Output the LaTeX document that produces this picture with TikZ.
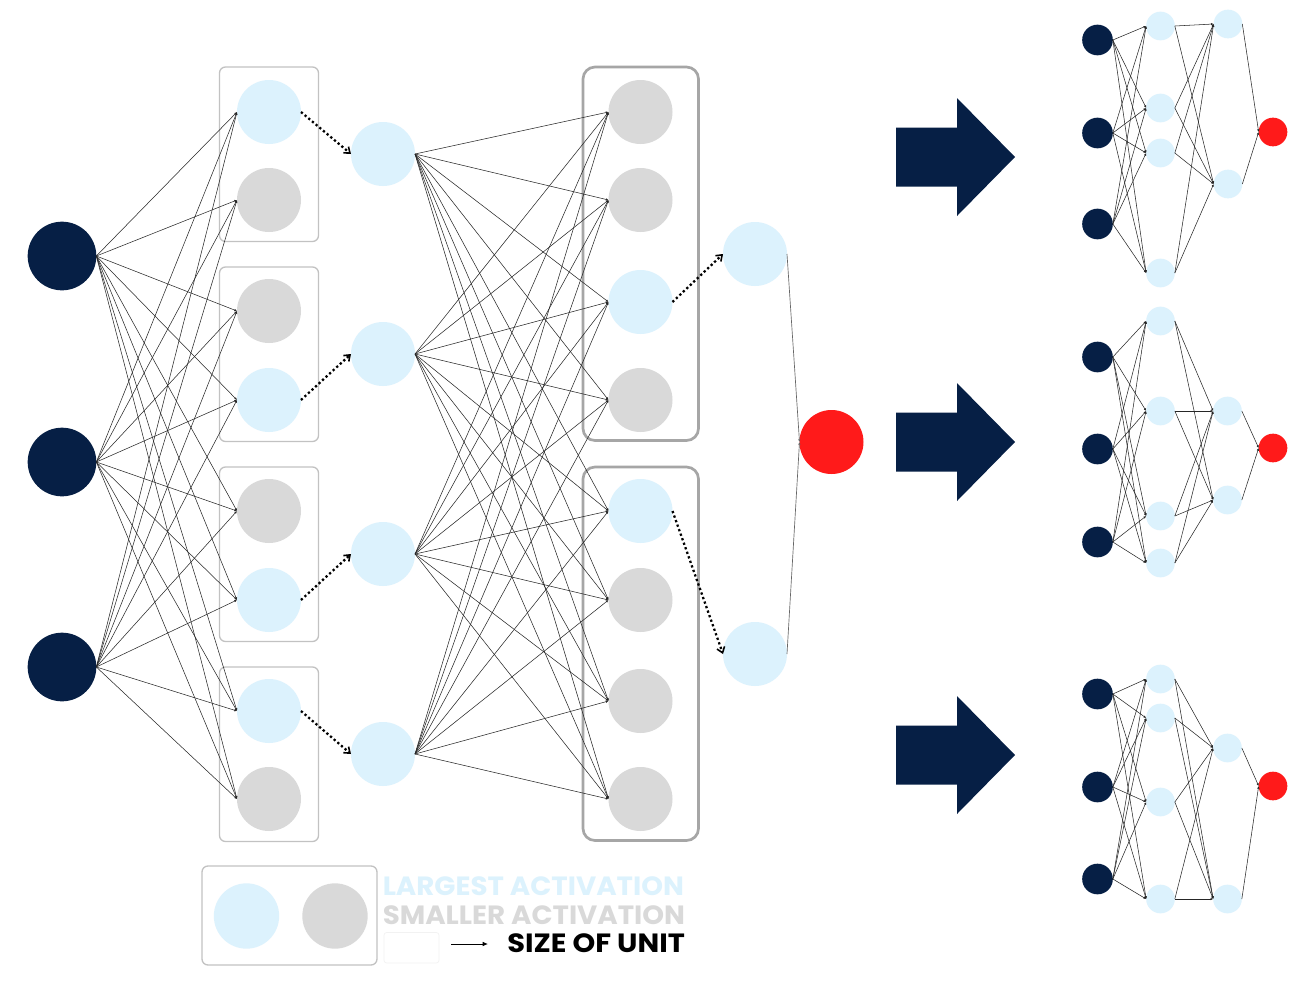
\documentclass[tikz,border=0pt]{standalone}
\usepackage{fontspec}
\setmainfont{Poppins}
\usetikzlibrary{arrows.meta}
\definecolor{navy}{HTML}{061F45}
\definecolor{lblue}{HTML}{DCF2FD}
\definecolor{lgray}{HTML}{D9D9D9}
\definecolor{ured}{HTML}{FF1A1A}
\definecolor{boxA}{HTML}{C2C2C2}
\definecolor{boxB}{HTML}{A6A6A6}
\tikzset{
  unit/.style={circle,inner sep=0pt,outer sep=0pt,draw=none},
  inp/.style={unit,fill=navy,minimum size=51.5pt},
  bl/.style={unit,fill=lblue,minimum size=48pt},
  gr/.style={unit,fill=lgray,minimum size=48pt},
  outn/.style={unit,fill=ured,minimum size=48pt},
  sinp/.style={unit,fill=navy,minimum size=23pt},
  sbl/.style={unit,fill=lblue,minimum size=21.5pt},
  sout/.style={unit,fill=ured,minimum size=21.5pt},
  conn/.style={line width=0.4pt,draw=black!85,-{Latex[length=2pt,width=1.8pt]}},
  gconn/.style={line width=0.5pt,draw=black!60,-{Latex[length=2pt,width=1.8pt]}},
  dotarrow/.style={line width=1.7pt,dash pattern=on 1.7pt off 1.9pt,-{Straight Barb[length=4pt,width=6pt,line width=1.2pt]}},
  boxa/.style={draw=boxA,line width=1pt,rounded corners=4.5pt},
  boxb/.style={draw=boxB,line width=2pt,rounded corners=9pt},
  bigarrow/.style={fill=navy,draw=none},
  legtxt/.style={anchor=base west,inner sep=0pt,font=\fontsize{19.8}{22}\selectfont\bfseries}
}
\begin{document}
\begin{tikzpicture}[x=0.75pt,y=-0.75pt]
\useasboundingbox (0,0) rectangle (1297,986);
\fill[white] (0,0) rectangle (1297,986);
% layer-1 boxes
\foreach \t in {67,267,467,667}
  \draw[boxa] (219.5,\t) rectangle (318.5,\t+174.5);
% layer-3 boxes
\draw[boxb] (583,67) rectangle (698.5,440.5);
\draw[boxb] (583,467) rectangle (698.5,840.5);
% legend box
\draw[boxa] (202,866) rectangle (377,965);
\draw[draw=black!5,line width=0.5pt,rounded corners=2pt] (384,932.5) rectangle (439,963);
% inputs
\node[inp] (i1) at (62,256) {};
\node[inp] (i2) at (62,462) {};
\node[inp] (i3) at (62,667) {};
% layer 1
\node[bl] (a1) at (269,112) {};
\node[gr] (a2) at (269,200) {};
\node[gr] (a3) at (269,311) {};
\node[bl] (a4) at (269,400) {};
\node[gr] (a5) at (269,511) {};
\node[bl] (a6) at (269,600) {};
\node[bl] (a7) at (269,711) {};
\node[gr] (a8) at (269,799) {};
% layer 2
\node[bl] (b1) at (383,154) {};
\node[bl] (b2) at (383,354) {};
\node[bl] (b3) at (383,554) {};
\node[bl] (b4) at (383,754) {};
% layer 3
\node[gr] (c1) at (640.5,112) {};
\node[gr] (c2) at (640.5,200) {};
\node[bl] (c3) at (640.5,302) {};
\node[gr] (c4) at (640.5,400) {};
\node[bl] (c5) at (640.5,511) {};
\node[gr] (c6) at (640.5,600) {};
\node[gr] (c7) at (640.5,701) {};
\node[gr] (c8) at (640.5,799) {};
% layer 4
\node[bl] (d1) at (755,254) {};
\node[bl] (d2) at (755,654) {};
% output
\node[outn] (o) at (831.5,442) {};
% connections
\foreach \i in {1,2,3}
  \foreach \j in {1,...,8}
    \draw[conn] (i\i.east) -- (a\j.west);
\foreach \i in {1,...,4}
  \foreach \j in {1,...,8}
    \draw[conn] (b\i.east) -- (c\j.west);
\draw[dotarrow] (a1.east) -- (b1.west);
\draw[dotarrow] (a4.east) -- (b2.west);
\draw[dotarrow] (a6.east) -- (b3.west);
\draw[dotarrow] (a7.east) -- (b4.west);
\draw[dotarrow] (c3.east) -- (d1.west);
\draw[dotarrow] (c5.east) -- (d2.west);
\draw[gconn] (d1.east) -- (o.west);
\draw[gconn] (d2.east) -- (o.west);
% big arrows
\foreach \cy/\n in {157/1,442/2,755/3}
  \fill[bigarrow] (896,\cy-29.5) -- (957,\cy-29.5) -- (957,\cy-59) -- (1015,\cy) -- (957,\cy+59) -- (957,\cy+29.5) -- (896,\cy+29.5) -- cycle;
% small net 1
\node[sinp] (p1) at (1097.5,40) {};
\node[sinp] (p2) at (1097.5,133) {};
\node[sinp] (p3) at (1097.5,224) {};
\node[sbl] (q1) at (1160.5,26) {};
\node[sbl] (q2) at (1160.5,108) {};
\node[sbl] (q3) at (1160.5,153) {};
\node[sbl] (q4) at (1160.5,273) {};
\node[sbl] (r1) at (1228,24) {};
\node[sbl] (r2) at (1228,184) {};
\node[sout] (s) at (1273,132) {};
% small net 2
\node[sinp] (pp1) at (1097.5,357) {};
\node[sinp] (pp2) at (1097.5,449) {};
\node[sinp] (pp3) at (1097.5,542) {};
\node[sbl] (qq1) at (1160.5,321) {};
\node[sbl] (qq2) at (1160.5,411) {};
\node[sbl] (qq3) at (1160.5,516) {};
\node[sbl] (qq4) at (1160.5,563) {};
\node[sbl] (rr1) at (1227.5,411) {};
\node[sbl] (rr2) at (1227.5,500) {};
\node[sout] (ss) at (1273,448) {};
% small net 3
\node[sinp] (ppp1) at (1097.5,694) {};
\node[sinp] (ppp2) at (1097.5,787) {};
\node[sinp] (ppp3) at (1097.5,879) {};
\node[sbl] (qqq1) at (1160.5,679) {};
\node[sbl] (qqq2) at (1160.5,718) {};
\node[sbl] (qqq3) at (1160.5,802) {};
\node[sbl] (qqq4) at (1160.5,899) {};
\node[sbl] (rrr1) at (1227.5,748) {};
\node[sbl] (rrr2) at (1227.5,899) {};
\node[sout] (sss) at (1273,786) {};
\foreach \P/\Q/\R/\S in {p/q/r/s,pp/qq/rr/ss,ppp/qqq/rrr/sss}{
  \foreach \i in {1,2,3}
    \foreach \j in {1,...,4}
      \draw[conn] (\P\i.east) -- (\Q\j.west);
  \foreach \i in {1,...,4}
    \foreach \j in {1,2}
      \draw[conn] (\Q\i.east) -- (\R\j.west);
  \foreach \j in {1,2}
    \draw[conn] (\R\j.east) -- (\S.west);
}
% legend
\node[bl,minimum size=49pt] (lb) at (246.5,916) {};
\node[gr,minimum size=49pt] (lg) at (335,916) {};
\node[legtxt,text=lblue] (t1) at (382.5,895) {\scalebox{1.05}[1]{LARGEST ACTIVATION}};
\node[legtxt,text=lgray] (t2) at (382.5,924) {\scalebox{1.05}[1]{SMALLER ACTIVATION}};
\node[legtxt,text=black] (t3) at (507,952.5) {\scalebox{1.095}[1]{SIZE OF UNIT}};
\coordinate (la) at (451,944);
\coordinate (lz) at (488,944);
\draw[line width=0.7pt,-{Latex[length=4pt,width=3.5pt]}] (la) -- (lz);
\end{tikzpicture}
\end{document}
